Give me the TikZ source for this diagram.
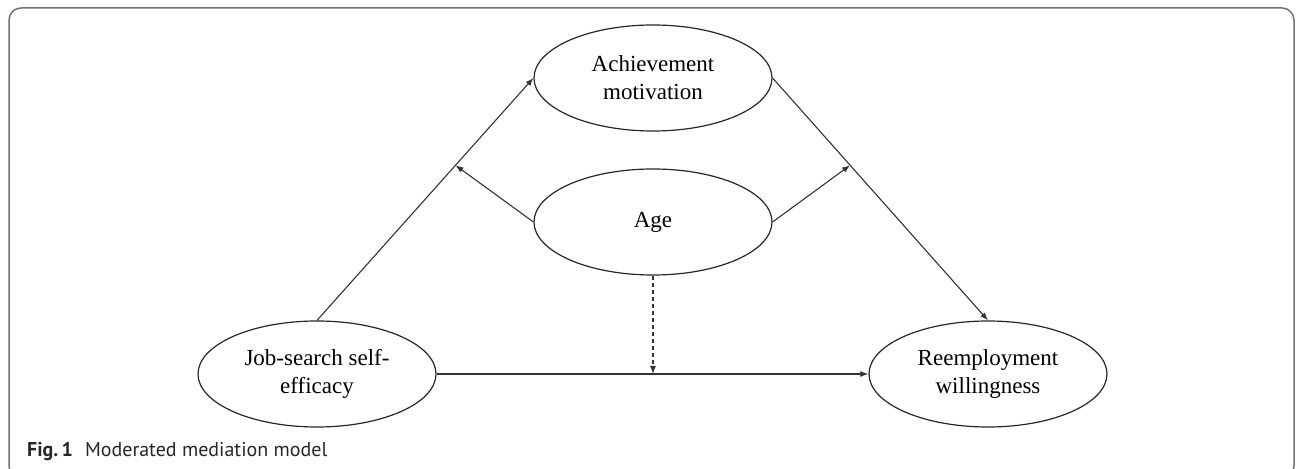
\documentclass[tikz,border=0pt]{standalone}
\usepackage{fontspec}
\setmainfont{Liberation Serif}
\newfontfamily\capfont{PT Sans}
\usetikzlibrary{arrows.meta,shapes.geometric,calc}
\begin{document}
\begin{tikzpicture}[x=1bp,y=-1bp,
  var/.style={draw=black!85, line width=1.2bp, ellipse, minimum width=238bp, minimum height=106bp, inner sep=0pt, align=center, font=\fontsize{23bp}{28bp}\selectfont},
  link/.style={draw=black!80, line width=1.1bp, -{Latex[length=8bp,width=6bp]}},
]
\useasboundingbox (0,0) rectangle (1296,469);
\begin{scope}
\clip (0,0) rectangle (1296,469);
\draw[black!55, line width=1.5bp, rounded corners=12bp] (9,8) rectangle (1294,478);
\end{scope}
\node[var] (ach) at (653,78) {Achievement\\motivation};
\node[var] (age) at (653,222) {Age};
\node[var] (job) at (317,374) {Job-search self-\\efficacy};
\node[var] (reem) at (988,374) {Reemployment\\willingness};
\coordinate (lm) at ($(job.north)!0.64!(ach.west)$);
\coordinate (rm) at ($(ach.east)!0.36!(reem.north)$);
\coordinate (mm) at (age.south |- job.east);
\draw[link] (job.north) -- (ach.west);
\draw[link] (ach.east) -- (reem.north);
\draw[link] (job.east) -- (reem.west);
\draw[link] (age.west) -- (lm);
\draw[link] (age.east) -- (rm);
\draw[link, dash pattern=on 4bp off 3bp] (age.south) -- (mm);
\node[anchor=base west, inner sep=0pt, text=black!85, font=\capfont\fontsize{20bp}{24bp}\selectfont] (cap) at (27,457) {\textbf{Fig.\,1}\hspace{12bp}Moderated mediation model};
\end{tikzpicture}
\end{document}
